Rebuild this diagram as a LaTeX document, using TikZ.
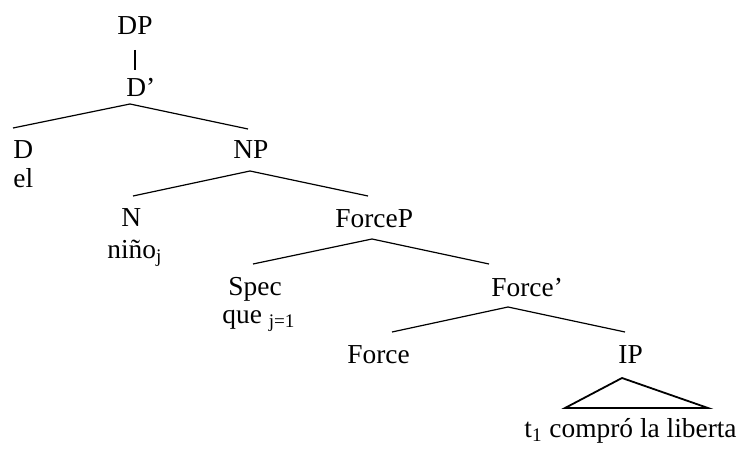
\documentclass[tikz,border=0pt]{standalone}
\usepackage{fontspec}
\setmainfont{Liberation Serif}

\begin{document}
\begin{tikzpicture}[x=0.5pt,y=-0.5pt,
  lbl/.style={inner sep=0, anchor=base west, font=\fontsize{13.7}{16}\selectfont},
  branch/.style={black, line width=0.6pt}]
\useasboundingbox (0,0) rectangle (737,459);
% labels of the tree
\node[lbl, anchor=base] (dp) at (135,35) {DP};
\node[lbl] (dbar) at (126,97) {D'};
\node[lbl] (d) at (13,159) {D};
\node[lbl] (el) at (13,188) {el};
\node[lbl] (np) at (233,159) {NP};
\node[lbl] (n) at (121,227) {N};
\node[lbl] (nino) at (107,258) {niño\textsubscript{j}};
\node[lbl] (forcep) at (335,228) {ForceP};
\node[lbl] (spec) at (228,295) {Spec};
\node[lbl] (que) at (222,323) {que \textsubscript{j=1}};
\node[lbl] (forcebar) at (491,296) {Force'};
\node[lbl] (force) at (347,363) {Force};
\node[lbl] (ip) at (618,363) {IP};
\node[lbl] (yield) at (524,437) {t\textsubscript{1} compró la liberta};
% branch points
\coordinate (dp-foot) at (135,50);
\coordinate (dbar-head) at (135,70);
\coordinate (dbar-apex) at (130,104);
\coordinate (d-tip) at (13,128);
\coordinate (np-tip) at (248,129);
\coordinate (np-apex) at (250,171);
\coordinate (n-tip) at (133,196);
\coordinate (forcep-tip) at (368,196);
\coordinate (forcep-apex) at (372,239);
\coordinate (spec-tip) at (253,264);
\coordinate (forcebar-tip) at (489,264);
\coordinate (forcebar-apex) at (508,307);
\coordinate (force-tip) at (392,332);
\coordinate (ip-tip) at (625,332);
\coordinate (ip-apex) at (622,378);
\coordinate (yield-left) at (565,408);
\coordinate (yield-right) at (708,408);
\draw[branch] (dp-foot) -- (dbar-head);
\foreach \l/\t/\r in {d-tip/dbar-apex/np-tip, n-tip/np-apex/forcep-tip,
  spec-tip/forcep-apex/forcebar-tip, force-tip/forcebar-apex/ip-tip}
 \draw[branch] (\l) -- (\t) -- (\r);
\draw[black, line width=0.9pt] (ip-apex) -- (yield-left) -- (yield-right) -- cycle;
\end{tikzpicture}
\end{document}
